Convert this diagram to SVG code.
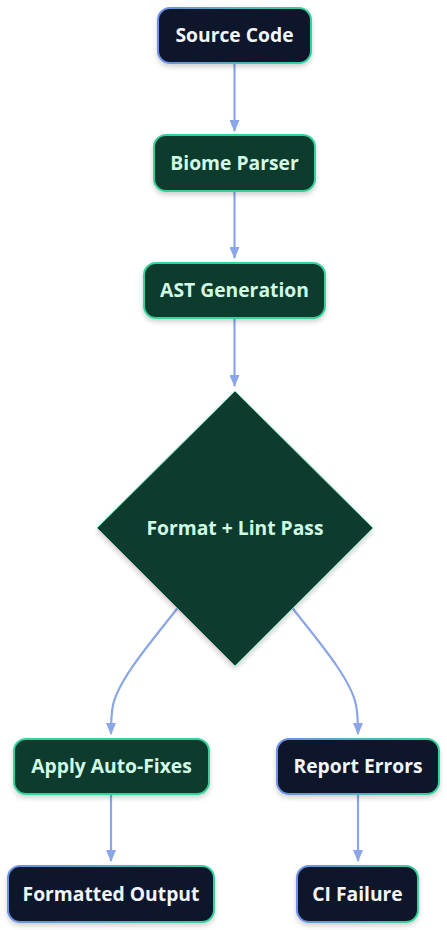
<svg xmlns="http://www.w3.org/2000/svg" width="447" height="930" viewBox="0 0 447 930">
<defs>
<linearGradient id="edgeGrad" x1="0" y1="0" x2="1" y2="0">
<stop offset="0" stop-color="#6f8fe6"/>
<stop offset="1" stop-color="#34d399"/>
</linearGradient>
<filter id="shadow" x="-20%" y="-20%" width="140%" height="160%">
<feDropShadow dx="0" dy="3" stdDeviation="2.5" flood-color="#000" flood-opacity="0.18"/>
</filter>
<marker id="arrow" viewBox="0 0 12 10" refX="11" refY="5" markerWidth="12" markerHeight="10" markerUnits="userSpaceOnUse" orient="auto">
<path d="M0,0 L12,5 L0,10 z" fill="#8aa6e8"/>
</marker>
</defs>
<style>
.edge{fill:none;stroke:#8aa6e8;stroke-width:2.2;}
.dark{fill:#0f172a;stroke:url(#edgeGrad);stroke-width:2;filter:url(#shadow);}
.green{fill:#0d3b2e;stroke:#34d399;stroke-width:2;filter:url(#shadow);}
.diamond{fill:#0d3b2e;stroke:#6ee7b7;stroke-width:1;filter:url(#shadow);}
.lbl{font-family:"Open Sans","Noto Sans","Liberation Sans",sans-serif;font-weight:700;font-size:19.3px;text-anchor:middle;dominant-baseline:central;}
.ldark{fill:#f1f5f9;}
.lgreen{fill:#d1fae5;}
</style>
<rect width="447" height="930" fill="#ffffff"/>
<g id="connectors">
<path class="edge" d="M234.5,63 L234.5,131" marker-end="url(#arrow)"/>
<path class="edge" d="M234.5,191 L234.5,258" marker-end="url(#arrow)"/>
<path class="edge" d="M234.5,318 L234.5,386" marker-end="url(#arrow)"/>
<path class="edge" d="M190,592 C160,632 120,675 113,705 C111,715 111,725 111,734" marker-end="url(#arrow)"/>
<path class="edge" d="M280,592 C310,632 350,675 356,705 C358,715 358,725 358,734" marker-end="url(#arrow)"/>
<path class="edge" d="M111,794 L111,861" marker-end="url(#arrow)"/>
<path class="edge" d="M358,794 L358,861" marker-end="url(#arrow)"/>
</g>
<g id="source-code">
<rect class="dark" x="158" y="8" width="153" height="55" rx="12"/>
<text class="lbl ldark" x="234.5" y="34.5">Source Code</text>
</g>
<g id="biome-parser">
<rect class="green" x="154" y="135" width="161" height="56" rx="12"/>
<text class="lbl lgreen" x="234.5" y="162">Biome Parser</text>
</g>
<g id="ast-generation">
<rect class="green" x="144" y="263" width="181" height="55" rx="12"/>
<text class="lbl lgreen" x="234.5" y="289.5">AST Generation</text>
</g>
<g id="format-lint-pass">
<polygon class="diamond" points="235,391 373,528 235,666 97,528"/>
<text class="lbl lgreen" x="235" y="527">Format + Lint Pass</text>
</g>
<g id="apply-auto-fixes">
<rect class="green" x="14" y="739" width="195" height="55" rx="12"/>
<text class="lbl lgreen" x="111.5" y="765.5">Apply Auto-Fixes</text>
</g>
<g id="report-errors">
<rect class="dark" x="277" y="739" width="162" height="55" rx="12"/>
<text class="lbl ldark" x="358" y="765.5">Report Errors</text>
</g>
<g id="formatted-output">
<rect class="dark" x="8" y="866" width="206" height="56" rx="12"/>
<text class="lbl ldark" x="111" y="893">Formatted Output</text>
</g>
<g id="ci-failure">
<rect class="dark" x="297" y="866" width="121" height="56" rx="12"/>
<text class="lbl ldark" x="357.5" y="893">CI Failure</text>
</g>
</svg>
